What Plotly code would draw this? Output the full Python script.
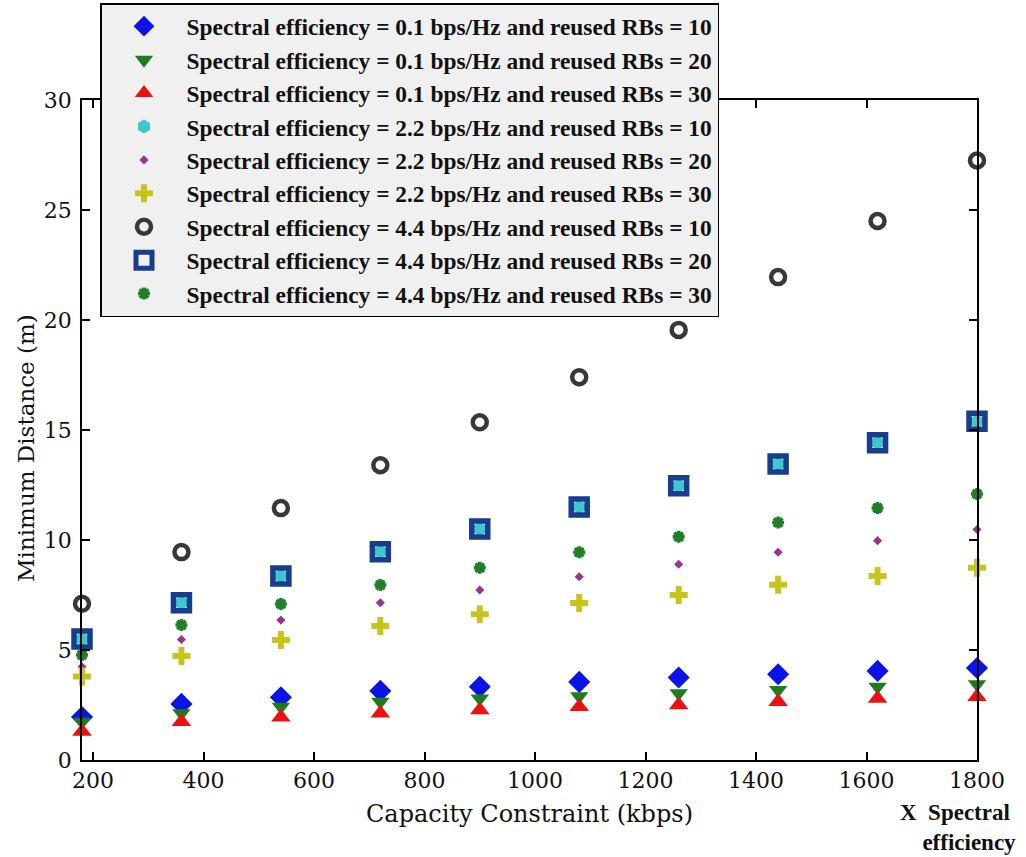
import plotly.graph_objects as go

# Capacity constraint (kbps) at which each configuration was evaluated
capacity = [180, 360, 540, 720, 900, 1080, 1260, 1440, 1620, 1800]

# Minimum distance (m) per spectral efficiency / reused RB configuration
se01_rb10 = [1.95, 2.55, 2.85, 3.14, 3.33, 3.55, 3.75, 3.90, 4.05, 4.18]
se01_rb20 = [1.74, 2.12, 2.42, 2.65, 2.80, 2.90, 3.03, 3.18, 3.33, 3.44]
se01_rb30 = [1.29, 1.74, 1.94, 2.12, 2.27, 2.42, 2.50, 2.65, 2.80, 2.88]
se22_rb10 = [5.50, 7.15, 8.36, 9.47, 10.50, 11.50, 12.47, 13.45, 14.42, 15.40]
se22_rb20 = [4.24, 5.48, 6.36, 7.15, 7.73, 8.33, 8.90, 9.44, 9.97, 10.48]
se22_rb30 = [3.79, 4.73, 5.45, 6.09, 6.62, 7.14, 7.50, 7.97, 8.36, 8.74]
se44_rb10 = [7.10, 9.45, 11.45, 13.40, 15.35, 17.40, 19.55, 21.95, 24.50, 27.25]
se44_rb20 = [5.50, 7.15, 8.36, 9.47, 10.50, 11.50, 12.47, 13.45, 14.42, 15.40]
se44_rb30 = [4.77, 6.14, 7.09, 7.95, 8.74, 9.44, 10.15, 10.80, 11.45, 12.09]

x_ticks = [200, 400, 600, 800, 1000, 1200, 1400, 1600, 1800]
y_ticks = [0, 5, 10, 15, 20, 25, 30]

SERIF = "Liberation Serif, Times New Roman, serif"
WIDE_SERIF = "DejaVu Serif, serif"

series = [
    ("Spectral efficiency = 0.1 bps/Hz and reused RBs = 10", se01_rb10,
     dict(symbol="diamond", size=17, color="#0a14e6",
          line=dict(width=0))),
    ("Spectral efficiency = 0.1 bps/Hz and reused RBs = 20", se01_rb20,
     dict(symbol="triangle-down", size=16, color="#1d7d1d",
          line=dict(width=0))),
    ("Spectral efficiency = 0.1 bps/Hz and reused RBs = 30", se01_rb30,
     dict(symbol="triangle-up", size=17, color="#ec1010",
          line=dict(width=0))),
    ("Spectral efficiency = 2.2 bps/Hz and reused RBs = 10", se22_rb10,
     dict(symbol="hexagon", size=14, color="#3cc8cc",
          line=dict(width=0))),
    ("Spectral efficiency = 2.2 bps/Hz and reused RBs = 20", se22_rb20,
     dict(symbol="diamond", size=7, color="#99338f",
          line=dict(width=0))),
    ("Spectral efficiency = 2.2 bps/Hz and reused RBs = 30", se22_rb30,
     dict(symbol="cross", size=15, color="#c8c41e",
          line=dict(width=0))),
    ("Spectral efficiency = 4.4 bps/Hz and reused RBs = 10", se44_rb10,
     dict(symbol="circle-open", size=14, color="#383838",
          line=dict(width=4.5))),
    ("Spectral efficiency = 4.4 bps/Hz and reused RBs = 20", se44_rb20,
     dict(symbol="square-open", size=16, color="#173d8c",
          line=dict(width=5.5))),
    ("Spectral efficiency = 4.4 bps/Hz and reused RBs = 30", se44_rb30,
     dict(symbol="asterisk-open", size=10, color="#1f7f2a",
          line=dict(width=3.5, color="#1f7f2a"))),
]

fig = go.Figure()
for i, (name, values, marker) in enumerate(series):
    fig.add_trace(go.Scatter(
        x=capacity, y=values, mode="markers", name=name,
        marker=marker, cliponaxis=False, legendgroup=f"g{i}",
    ))

axis_common = dict(
    showline=True, linecolor="black", linewidth=1.5, mirror="ticks",
    ticks="inside", ticklen=8, tickwidth=1.5, tickcolor="black",
    showgrid=False, zeroline=False,
    tickfont=dict(family=WIDE_SERIF, size=22, color="#111"),
)

fig.update_layout(
    width=1026, height=857,
    margin=dict(l=82, r=49, t=100, b=97, autoexpand=False),
    font=dict(family=SERIF, color="#111"),
    paper_bgcolor="white", plot_bgcolor="white",
    showlegend=True,
    legend=dict(
        xref="container", yref="container",
        x=100 / 1026, y=1 - 3 / 857, xanchor="left", yanchor="top",
        bgcolor="#f0f0f0", bordercolor="black", borderwidth=1.5,
        font=dict(family=SERIF, size=23.4, color="#111", weight="bold"),
        tracegroupgap=0, itemwidth=75,
    ),
    xaxis=dict(axis_common, range=[180, 1800], tickvals=x_ticks,
               title=dict(text="Capacity Constraint (kbps)",
                          font=dict(family=WIDE_SERIF, size=24,
                                    color="#111"),
                          standoff=13)),
    yaxis=dict(axis_common, range=[0, 30], tickvals=y_ticks,
               ticklabelstandoff=4),
    annotations=[
        dict(text="Minimum Distance (m)", textangle=-90,
             xref="paper", yref="paper", x=-0.062, y=0.472,
             xanchor="center", yanchor="middle", showarrow=False,
             font=dict(family=WIDE_SERIF, size=23, color="#111")),
        dict(text="X  Spectral&nbsp;<br>efficiency",
             xref="paper", yref="paper",
             x=1.046, y=-0.103, xanchor="right", yanchor="middle",
             align="right", showarrow=False,
             font=dict(family=SERIF, size=23, color="#111",
                       weight="bold")),
    ],
)

fig.write_html("out.html")
